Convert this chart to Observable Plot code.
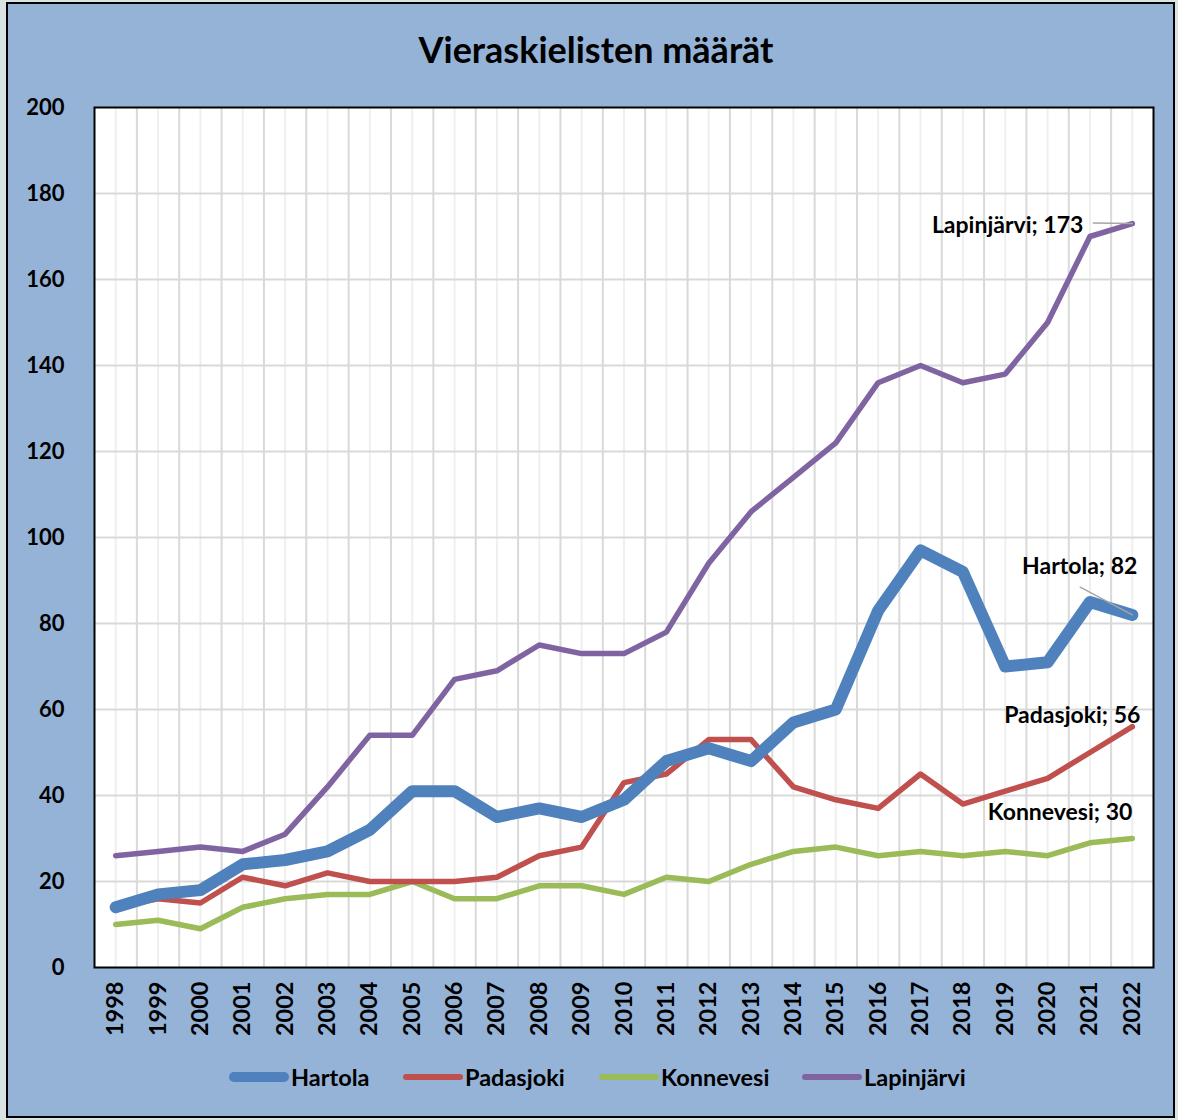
<!DOCTYPE html>
<html>
<head>
<meta charset="utf-8">
<script src="https://cdn.jsdelivr.net/npm/d3@7"></script>
<script src="https://cdn.jsdelivr.net/npm/@observablehq/plot@0.6"></script>
<style>
  html, body { margin: 0; padding: 0; }
  body { width: 1178px; height: 1120px; overflow: hidden; font-family: Lato, "Open Sans", sans-serif; }
  #outer { position: relative; width: 1178px; height: 1120px; background: #d9e4e2; }
  #inner { position: absolute; left: 6px; top: 2px; width: 1169px; height: 1116px; box-sizing: border-box;
           background: #95b3d7; border: 2px solid #000; }
  #chart { position: absolute; left: 0; top: 0; }
  #title { position: absolute; left: 0; width: 1192px; top: 27px; text-align: center; font-weight: 700;
           font-size: 36px; line-height: 44px; color: #000; }
  #legend { position: absolute; top: 1063px; left: 0; width: 1178px; height: 28px; }
  .item { position: absolute; display: flex; align-items: center; font-weight: 700; font-size: 23.5px; color: #000; }
  .sw { width: 60px; border-radius: 6px; margin-right: 2px; }
  #chart svg text { font-family: Lato, "Open Sans", sans-serif; font-weight: 700; fill: #000; }
  #chart g[aria-label="x-axis tick label"] text { font-size: 23.5px; }
  #chart g[aria-label="y-axis tick label"] text { font-size: 22px; }
</style>
</head>
<body>
<div id="outer">
  <div id="inner"></div>
  <div id="title">Vieraskielisten määrät</div>
  <div id="chart"></div>
  <div id="legend"></div>
</div>
<script>
const years = [1998, 1999, 2000, 2001, 2002, 2003, 2004, 2005, 2006, 2007, 2008, 2009, 2010,
               2011, 2012, 2013, 2014, 2015, 2016, 2017, 2018, 2019, 2020, 2021, 2022];
const hartola    = [14, 17, 18, 24, 25, 27, 32, 41, 41, 35, 37, 35, 39, 48, 51, 48, 57, 60, 83, 97, 92, 70, 71, 85, 82];
const padasjoki  = [14, 16, 15, 21, 19, 22, 20, 20, 20, 21, 26, 28, 43, 45, 53, 53, 42, 39, 37, 45, 38, 41, 44, 50, 56];
const konnevesi  = [10, 11, 9, 14, 16, 17, 17, 20, 16, 16, 19, 19, 17, 21, 20, 24, 27, 28, 26, 27, 26, 27, 26, 29, 30];
const lapinjarvi = [26, 27, 28, 27, 31, 42, 54, 54, 67, 69, 75, 73, 73, 78, 94, 106, 114, 122, 136, 140, 136, 138, 150, 170, 173];
const seriesNames = ["Hartola", "Padasjoki", "Konnevesi", "Lapinjärvi"];
const seriesValues = [hartola, padasjoki, konnevesi, lapinjarvi];
const yTicks = [0, 20, 40, 60, 80, 100, 120, 140, 160, 180, 200];

const colors = {Hartola: "#4f81bd", Padasjoki: "#c0504d", Konnevesi: "#9bbb59", "Lapinjärvi": "#8064a2"};
const widths = {Hartola: 12, Padasjoki: 5.5, Konnevesi: 5.5, "Lapinjärvi": 5.5};

const rows = [];
seriesNames.forEach((name, i) => years.forEach((yr, j) => rows.push({series: name, year: yr, value: seriesValues[i][j]})));
const last = seriesNames.map((name, i) => ({series: name, year: years[years.length - 1], value: seriesValues[i][years.length - 1]}));
const lastOf = n => last.filter(d => d.series === n);

// label offsets (pixels) relative to the last data point
const labelStyle = {
  Hartola:     {dx: 5,   dy: -48, anchor: "end"},
  Padasjoki:   {dx: 8,   dy: -11, anchor: "end"},
  Konnevesi:   {dx: 0,   dy: -26, anchor: "end"},
  "Lapinjärvi":{dx: -49, dy: 2,   anchor: "end"}
};

const lineShape = {draw(context, l) { context.moveTo(0, 0); context.lineTo(0, -l); }};

function build(withLeaders) {
  const marks = [
    Plot.frame({fill: "white"}),
    Plot.ruleX(years, {stroke: "#efefef", strokeWidth: 2}),
    Plot.ruleX(years.slice(0, -1), {x: d => d + 0.5, stroke: "#d9d9d9", strokeWidth: 2}),
    Plot.ruleY(yTicks.slice(1, -1), {stroke: "#d9d9d9", strokeWidth: 2}),
  ];
  for (const name of ["Lapinjärvi", "Konnevesi", "Padasjoki", "Hartola"]) {
    marks.push(Plot.line(rows.filter(d => d.series === name), {
      x: "year", y: "value", stroke: colors[name], strokeWidth: widths[name],
      strokeLinejoin: "round", strokeLinecap: "round"
    }));
  }
  marks.push(Plot.frame({stroke: "#000", strokeWidth: 2}));
  if (withLeaders) {
    marks.push(Plot.vector(lastOf("Lapinjärvi"), {x: "year", y: "value", anchor: "start", length: 39, rotate: 271,
      stroke: "#a6a6a6", strokeWidth: 1.5, shape: lineShape}));
    marks.push(Plot.vector(lastOf("Hartola"), {x: "year", y: "value", anchor: "start", length: 59, rotate: 298,
      stroke: "#a6a6a6", strokeWidth: 1.5, shape: lineShape}));
  }
  for (const name of seriesNames) {
    const s = labelStyle[name];
    marks.push(Plot.text(lastOf(name), {x: "year", y: "value", text: d => `${d.series}; ${d.value}`,
      dx: s.dx, dy: s.dy, textAnchor: s.anchor, fontSize: 23, fontWeight: "bold", fill: "#000"}));
  }
  return Plot.plot({
    width: 1178, height: 1060,
    marginLeft: 94, marginRight: 25, marginTop: 107, marginBottom: 93,
    style: {background: "transparent", fontFamily: "Lato, sans-serif", fontWeight: "bold", color: "#000"},
    x: {domain: [1997.5, 2022.5], ticks: years, tickFormat: d => String(d), tickRotate: -90,
        tickSize: 0, tickPadding: 14, label: null},
    y: {domain: [0, 200], ticks: yTicks, tickSize: 0, tickPadding: 30, label: null},
    marks
  });
}

let chart;
try { chart = build(true); } catch (e) { chart = build(false); }
document.getElementById("chart").appendChild(chart);

// legend
const legendPos = {Hartola: 229, Padasjoki: 403, Konnevesi: 599, "Lapinjärvi": 802};
const legend = document.getElementById("legend");
for (const name of seriesNames) {
  const item = document.createElement("div");
  item.className = "item";
  item.style.left = legendPos[name] + "px";
  item.style.top = "0px";
  item.style.height = "28px";
  const sw = document.createElement("div");
  sw.className = "sw";
  sw.style.background = colors[name];
  sw.style.height = (name === "Hartola" ? 10 : 5.5) + "px";
  const label = document.createElement("span");
  label.textContent = name;
  item.appendChild(sw);
  item.appendChild(label);
  legend.appendChild(item);
}
</script>
</body>
</html>
